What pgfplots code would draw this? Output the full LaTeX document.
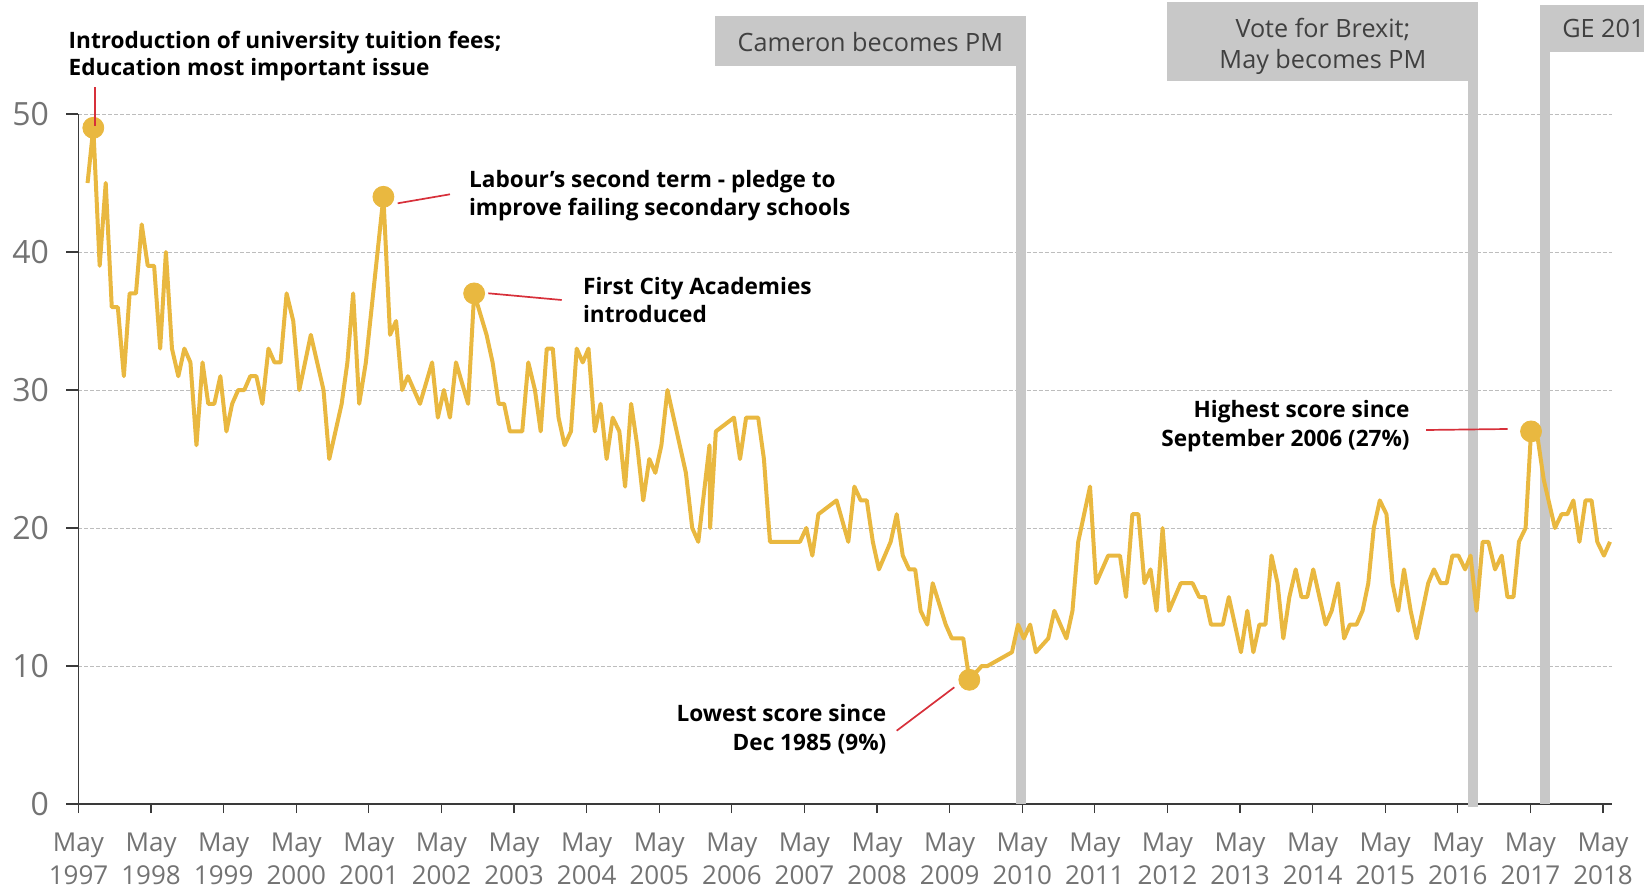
\documentclass[border=0pt]{standalone}
\usepackage{fontspec}
\setmainfont{Open Sans}
\usepackage{pgfplots}
\pgfplotsset{compat=1.18}

\definecolor{lineyellow}{HTML}{E9B840}
\definecolor{bargray}{HTML}{C8C8C8}
\definecolor{tickgray}{HTML}{737373}
\definecolor{boxtext}{HTML}{404040}
\definecolor{leadred}{HTML}{D7303A}
\definecolor{gridgray}{HTML}{BDBDBD}
\definecolor{axisdark}{HTML}{3A3A3A}

\newcommand{\notefont}{\fontsize{11.3}{13}\selectfont\bfseries}
\newcommand{\boxfont}{\fontsize{12.6}{15.7}\selectfont}

\begin{document}
\begin{tikzpicture}
\begin{axis}[
  scale only axis, width=766.5pt, height=345pt,
  xmin=0, xmax=253.4, ymin=0, ymax=50,
  axis lines=left,
  axis line style={-, axisdark, line width=0.6pt},
  tick align=outside,
  tick style={axisdark, line width=0.6pt},
  /pgf/number format/assume math mode=true,
  xtick={0,12,...,252},
  xticklabels={May\\1997,May\\1998,May\\1999,May\\2000,May\\2001,May\\2002,
    May\\2003,May\\2004,May\\2005,May\\2006,May\\2007,May\\2008,May\\2009,
    May\\2010,May\\2011,May\\2012,May\\2013,May\\2014,May\\2015,May\\2016,
    May\\2017,May\\2018},
  xtick style={/pgfplots/major tick length=4.5pt},
  ytick style={/pgfplots/major tick length=6pt},
  xticklabel style={align=center, text=tickgray, yshift=-6.5pt,
    font=\fontsize{13}{16.8}\selectfont},
  ytick={0,10,...,50},
  yticklabel style={text=tickgray, xshift=-7pt, font=\fontsize{16}{16}\selectfont},
  ymajorgrids,
  major grid style={gridgray, line width=0.5pt, dash pattern=on 2pt off 1pt},
  clip=false,
]
% event bars and boxes
\fill[bargray] (axis cs:154.9,0) rectangle (axis cs:156.6,53.5);
\fill[bargray] (axis cs:105.2,53.5) rectangle (axis cs:156.6,57.1);
\node[text=boxtext, font=\boxfont] at (axis cs:130.9,55.25) {Cameron becomes PM};
\fill[bargray] (axis cs:229.7,-0.2) rectangle (axis cs:231.4,52.4);
\fill[bargray] (axis cs:180.0,52.4) rectangle (axis cs:231.4,58.1);
\node[text=boxtext, font=\boxfont, align=center] at (axis cs:205.7,54.9)
  {Vote for Brexit;\\May becomes PM};
\fill[bargray] (axis cs:241.6,0) rectangle (axis cs:243.3,54.5);
\fill[bargray] (axis cs:241.6,54.5) rectangle (axis cs:262,57.9);
\node[text=boxtext, font=\boxfont, anchor=west, inner sep=0pt] at (axis cs:245.2,56.2) {GE 2017};

% issues index, education (%)
\addplot[lineyellow, line width=2pt, line join=round] coordinates {
(1.5,45) (2.45,49) (3.5,39) (4.5,45) (5.5,36) (6.5,36) (7.5,31) (8.45,37)
(9.5,37) (10.45,42) (11.45,39) (12.5,39) (13.5,33) (14.45,40) (15.45,33)
(16.5,31) (17.5,33) (18.5,32) (19.5,26) (20.5,32) (21.45,29) (22.45,29)
(23.45,31) (24.45,27) (25.4,29) (26.4,30) (27.4,30) (28.4,31) (29.4,31)
(30.4,29) (31.4,33) (32.4,32) (33.4,32) (34.4,37) (35.5,35) (36.5,30)
(38.4,34) (40.5,30) (41.45,25) (43.5,29) (44.45,32) (45.4,37) (46.4,29)
(47.5,32) (50.4,44) (51.5,34) (52.5,35) (53.5,30) (54.45,31) (56.45,29)
(58.45,32) (59.4,28) (60.4,30) (61.4,28) (62.4,32) (64.4,29) (65.4,37)
(67.45,34) (68.45,32) (69.45,29) (70.35,29) (71.3,27) (73.35,27) (74.35,32)
(75.45,30) (76.4,27) (77.4,33) (78.4,33) (79.35,28) (80.35,26) (81.4,27)
(82.35,33) (83.35,32) (84.3,33) (85.35,27) (86.3,29) (87.3,25) (88.3,28)
(89.4,27) (90.35,23) (91.35,29) (92.35,26) (93.35,22) (94.35,25) (95.35,24)
(96.35,26) (97.35,30) (100.4,24) (101.45,20) (102.45,19) (104.3,26) (104.4,20)
(105.35,27) (108.35,28) (109.35,25) (110.35,28) (112.35,28) (113.3,25)
(114.3,19) (119.25,19) (120.3,20) (121.3,18) (122.3,21) (125.3,22) (127.25,19)
(128.25,23) (129.3,22) (130.3,22) (131.3,19) (132.3,17) (134.25,19) (135.25,21)
(136.25,18) (137.3,17) (138.3,17) (139.2,14) (140.3,13) (141.2,16) (143.35,13)
(144.35,12) (146.25,12) (147.25,9) (149.3,10) (150.25,10) (154.3,11) (155.3,13)
(156.25,12) (157.3,13) (158.25,11) (160.3,12) (161.3,14) (163.3,12) (164.3,14)
(165.25,19) (167.2,23) (168.2,16) (170.2,18) (172.15,18) (173.15,15) (174.2,21)
(175.2,21) (176.2,16) (177.2,17) (178.2,14) (179.2,20) (180.25,14) (182.2,16)
(184.15,16) (185.25,15) (186.2,15) (187.2,13) (189.15,13) (190.15,15) (192.15,11)
(193.2,14) (194.2,11) (195.2,13) (196.2,13) (197.2,18) (198.2,16) (199.15,12)
(200.15,15) (201.2,17) (202.15,15) (203.1,15) (204.1,17) (206.15,13) (207.15,14)
(208.2,16) (209.2,12) (210.15,13) (211.25,13) (212.25,14) (213.2,16) (214.1,20)
(215.1,22) (216.2,21) (217.2,16) (218.15,14) (219.1,17) (220.2,14) (221.2,12)
(223.1,16) (224.05,17) (225.15,16) (226.15,16) (227.1,18) (228.1,18) (229.2,17)
(230.1,18) (231.1,14) (232.1,19) (233.05,19) (234.15,17) (235.25,18) (236.2,15)
(237.2,15) (238.1,19) (239.2,20) (240.1,27) (241.2,26.5) (242.2,23.5) (244.05,20)
(245.15,21) (246.1,21) (247.1,22) (248.1,19) (249.1,22) (250.1,22) (251.05,19)
(252.15,18) (253.15,19)
};
% highlighted points
\addplot[only marks, mark=*, mark size=5.25pt, color=lineyellow] coordinates {
(2.45,49) (50.4,44) (65.4,37) (147.25,9) (240.1,27)
};
\end{axis}

% annotations, in pixel units of the 1644x890 reference
\begin{scope}[shift={(-39.25pt,402pt)}, x=0.5pt, y=-0.5pt]
\draw[leadred, line width=0.85pt] (95,87.3) -- (95,126);
\node[font=\notefont, anchor=base west, inner sep=0pt] at (68.3,48.3) {Introduction of university tuition fees;};
\node[font=\notefont, anchor=base west, inner sep=0pt] at (68.3,76) {Education most important issue};

\draw[leadred, line width=0.85pt] (397.7,203.3) -- (450,194.3);
\node[font=\notefont, anchor=base west, inner sep=0pt] at (468.7,188) {Labour’s second term - pledge to};
\node[font=\notefont, anchor=base west, inner sep=0pt] at (468.7,216) {improve failing secondary schools};

\draw[leadred, line width=0.85pt] (488.3,293.3) -- (561.7,300);
\node[font=\notefont, anchor=base west, inner sep=0pt] at (582.7,294.3) {First City Academies};
\node[font=\notefont, anchor=base west, inner sep=0pt] at (582.7,322.7) {introduced};

\draw[leadred, line width=0.85pt] (896.7,730.7) -- (954.3,687.3);
\node[font=\notefont, anchor=base east, inner sep=0pt] at (886.7,721.7) {Lowest score since};
\node[font=\notefont, anchor=base east, inner sep=0pt] at (886.7,750) {Dec 1985 (9\%)};

\draw[leadred, line width=0.85pt] (1426,430) -- (1507.7,429);
\node[font=\notefont, anchor=base east, inner sep=0pt] at (1410,417.3) {Highest score since};
\node[font=\notefont, anchor=base east, inner sep=0pt] at (1410,446.7) {September 2006 (27\%)};

\pgfresetboundingbox
\useasboundingbox (0,0) rectangle (1644,890);
\end{scope}
\end{tikzpicture}
\end{document}
